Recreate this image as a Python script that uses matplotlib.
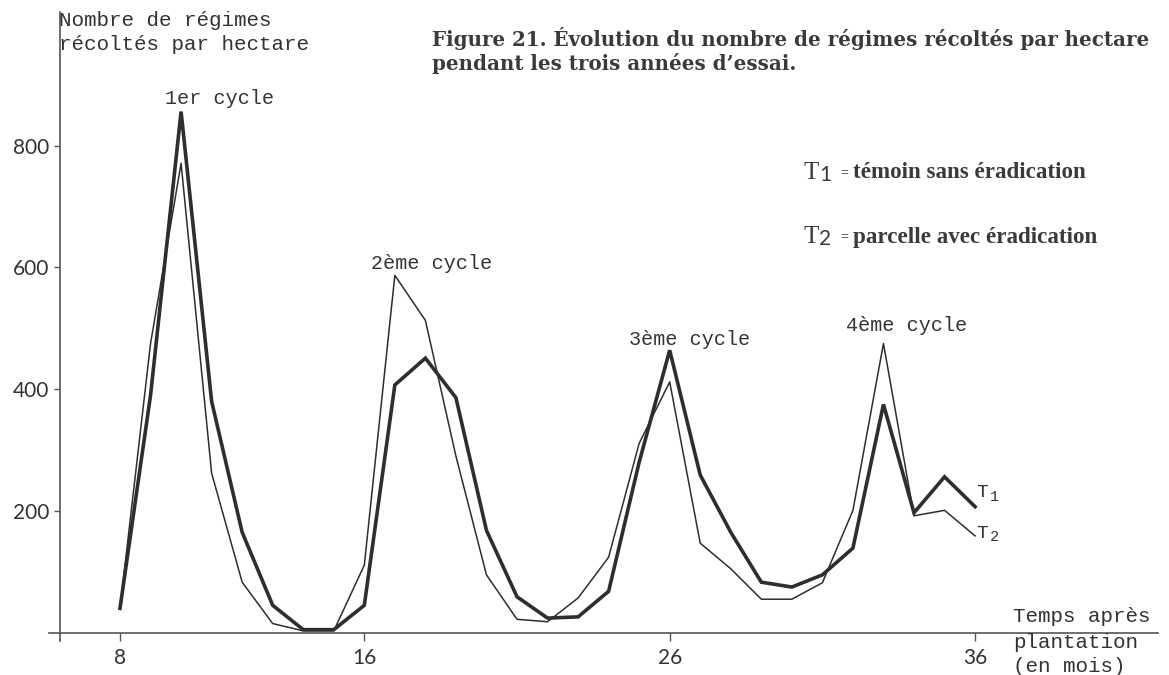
import matplotlib
matplotlib.use("Agg")
import matplotlib.pyplot as plt

# months after planting
months = list(range(8, 37))

# T1 : témoin sans éradication
t1 = [40, 390, 856, 380, 165, 45, 5, 5, 45, 407, 451, 386, 168, 59, 24, 26,
      68, 280, 464, 259, 165, 83, 75, 95, 139, 375, 197, 256, 207]
# T2 : parcelle avec éradication
t2 = [40, 475, 771, 262, 83, 15, 3, 3, 111, 587, 513, 290, 95, 22, 18, 57,
      124, 311, 412, 147, 105, 55, 55, 82, 201, 475, 192, 201, 159]

x_ticks = [8, 16, 26, 36]
y_ticks = [200, 400, 600, 800]

W, H = 1169, 675
ink = '#2e2e2e'
mono = 'Liberation Mono'
serif = 'Liberation Serif'


def px(x, y):
    # pixel position -> figure fraction
    return x / W, 1 - y / H


fig = plt.figure(figsize=(W / 100, H / 100), dpi=100)
ax = fig.add_axes([60 / W, (H - 632.7) / H, 1098 / W, 620.7 / H])
ax.set_xlim(6.035, 41.99)
ax.set_ylim(0, 1019.6)

ax.plot(months, t1, color=ink, lw=2.6, solid_joinstyle='miter')
ax.plot(months, t2, color=ink, lw=1.1)

# axes look
for s in ['top', 'right', 'bottom']:
    ax.spines[s].set_visible(False)
ax.spines['left'].set_color('#555555')
ax.spines['left'].set_linewidth(1.2)
ax.axhline(0, xmin=-11 / 1098, xmax=1, color='#555555', lw=1.2, clip_on=False)
ax.axvline(6.035, ymin=-8 / 620, ymax=0, color='#555555', lw=1.2, clip_on=False)

ax.set_xticks(x_ticks)
ax.set_yticks(y_ticks)
ax.tick_params(axis='x', direction='out', length=6, width=1, color='#555555',
               labelsize=15, labelcolor='#333333', pad=5)
ax.tick_params(axis='y', direction='out', length=4, width=1, color='#555555',
               labelsize=15, labelcolor='#333333', pad=4)
for lab in ax.get_xticklabels() + ax.get_yticklabels():
    lab.set_fontfamily('Lato')

# axis titles (typewriter style)
fig.text(*px(59, 21), 'Nombre de régimes', family=mono, fontsize=15,
         color='#333333', va='center', ha='left')
fig.text(*px(59, 45), 'récoltés par hectare', family=mono, fontsize=15,
         color='#333333', va='center', ha='left')
fig.text(*px(1013, 617), 'Temps après', family=mono, fontsize=15,
         color='#333333', va='center', ha='left')
fig.text(*px(1013, 643), 'plantation', family=mono, fontsize=15,
         color='#333333', va='center', ha='left')
fig.text(*px(1013, 667), '(en mois)', family=mono, fontsize=15,
         color='#333333', va='center', ha='left')

# cycle labels
cycles = ['1er cycle', '2ème cycle', '3ème cycle', '4ème cycle']
cycle_pos = [(11.27, 878), (18.22, 606), (26.66, 482), (33.77, 505)]
for lab, (cx, cy) in zip(cycles, cycle_pos):
    ax.text(cx, cy, lab, family=mono, fontsize=14.5, color='#333333',
            ha='center', va='center')

# end labels of the two curves
for vals, name, dy in [(t1, '1', 10), (t2, '2', 2)]:
    ax.annotate('T', (months[-1], vals[-1]), xytext=(1, dy),
                textcoords='offset points', family=mono, fontsize=14,
                color='#333333', ha='left', va='center')
    ax.annotate(name, (months[-1], vals[-1]), xytext=(11, dy - 3),
                textcoords='offset points', family=mono, fontsize=11,
                color='#333333', ha='left', va='center')

# figure title
fig.text(*px(432, 38), 'Figure 21. Évolution du nombre de régimes récoltés par hectare',
         family='DejaVu Serif', weight='bold', fontsize=14.3, color='#3a3a3a',
         va='center', ha='left')
fig.text(*px(432, 63), 'pendant les trois années d\u2019essai.',
         family='DejaVu Serif', weight='bold', fontsize=14.3, color='#3a3a3a',
         va='center', ha='left')

# key
for y, num, txt in [(173, '1', 'témoin sans éradication'),
                    (237, '2', 'parcelle avec éradication')]:
    fig.text(*px(804, y), 'T', family=serif, fontsize=18, color='#3a3a3a',
             va='center', ha='left')
    fig.text(*px(819, y + 2), num, family='Lato', fontsize=15, color='#3a3a3a',
             va='center', ha='left')
    fig.text(*px(840, y), '=', family=serif, weight='bold', fontsize=10,
             color='#3a3a3a', va='center', ha='left')
    fig.text(*px(853, y), txt, family=serif, weight='bold', fontsize=16.6,
             color='#3a3a3a', va='center', ha='left')

fig.savefig('out.png', dpi=100)
